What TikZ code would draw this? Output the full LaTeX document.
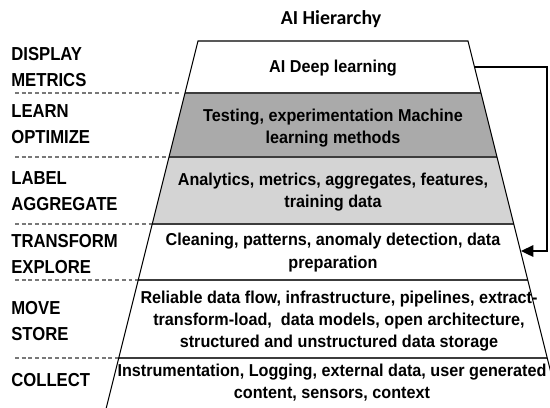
\documentclass[tikz,border=0pt]{standalone}
\usepackage{fontspec}
\setmainfont{Liberation Sans}
\newfontfamily\stagefont{Liberation Sans}[FakeStretch=0.887]
\newfontfamily\layerfont{Liberation Sans}[FakeStretch=0.94]
\newfontfamily\titlefont{Carlito}
\usetikzlibrary{arrows.meta}

\definecolor{bandDark}{RGB}{170,170,170}
\definecolor{bandLight}{RGB}{212,212,212}
\definecolor{edgeGray}{RGB}{60,60,60}
\definecolor{dashGray}{RGB}{120,120,120}

\tikzset{
    stage/.style={anchor=west, align=left, inner sep=0pt,
        font=\stagefont\bfseries\fontsize{10.7}{14.5}\selectfont},
    layer/.style={align=center, inner sep=0pt,
        font=\layerfont\bfseries\fontsize{9.8}{12.6}\selectfont},
    sep/.style={draw=edgeGray, line width=0.9pt},
    guide/.style={draw=dashGray, line width=0.6pt, dash pattern=on 2.2pt off 1.6pt}
}

\begin{document}
\begin{tikzpicture}[x=0.02cm, y=-0.02cm]
    \clip (0,0) rectangle (550,407);

    % bands of the pyramid, top to bottom
    \filldraw[fill=white, draw=none] (198,41) -- (468,41) -- (481,93) -- (185,93) -- cycle;
    \filldraw[fill=bandDark, draw=none] (185,93) -- (481,93) -- (497,157) -- (169,157) -- cycle;
    \filldraw[fill=bandLight, draw=none] (169,157) -- (497,157) -- (513.75,224) -- (152.25,224) -- cycle;
    \filldraw[fill=white, draw=none] (152.25,224) -- (513.75,224) -- (560.25,410) -- (105.75,410) -- cycle;

    % dashed guides on the left
    \draw[guide] (15,93) -- (180,93);
    \draw[guide] (15,157) -- (180,157);
    \draw[guide] (15,224) -- (180,224);
    \draw[guide] (15,280) -- (180,280);
    \draw[guide] (15,358) -- (135,358);

    % separators
    \draw[sep] (185,93) -- (481,93);
    \draw[sep] (169,157) -- (497,157);
    \draw[sep] (152.25,224) -- (513.75,224);
    \draw[sep] (138.25,280) -- (527.75,280);
    \draw[sep] (118.75,358) -- (547.25,358);

    % outline
    \draw[line width=0.6pt] (105.75,410) -- (198,41) -- (468,41) -- (560.25,410);

    \node[font=\titlefont\bfseries\fontsize{11.3}{13}\selectfont] (title) at (331,19) {AI Hierarchy};

    \node[stage] (display) at (11,67) {DISPLAY\\METRICS};
    \node[stage] (learn) at (11,124) {LEARN\\OPTIMIZE};
    \node[stage] (label) at (11,191) {LABEL\\AGGREGATE};
    \node[stage] (transform) at (11,254) {TRANSFORM\\EXPLORE};
    \node[stage] (move) at (11,321) {MOVE\\STORE};
    \node[stage] (collect) at (11,380) {COLLECT};

    \node[layer] (deep) at (333,68) {AI Deep learning};
    \node[layer] (ml) at (333,128) {Testing, experimentation Machine\\learning methods};
    \node[layer] (analytics) at (333,192) {Analytics, metrics, aggregates, features,\\training data};
    \node[layer] (cleaning) at (333,252.5) {Cleaning, patterns, anomaly detection, data\\preparation};
    \node[layer] (flow) at (339,321) {Reliable data flow, infrastructure, pipelines, extract-\\transform-load,\ \ data models, open architecture,\\structured and unstructured data storage};
    \node[layer] (sources) at (332,383) {Instrumentation, Logging, external data, user generated\\content, sensors, context};

    % feedback arrow
    \coordinate (topOut) at (474.5,67);
    \coordinate (midIn) at (521,251);
    \draw[line width=1.1pt, -{Triangle[length=7pt, width=6.5pt]}] (topOut) -- (547,67) |- (midIn);
\end{tikzpicture}
\end{document}
